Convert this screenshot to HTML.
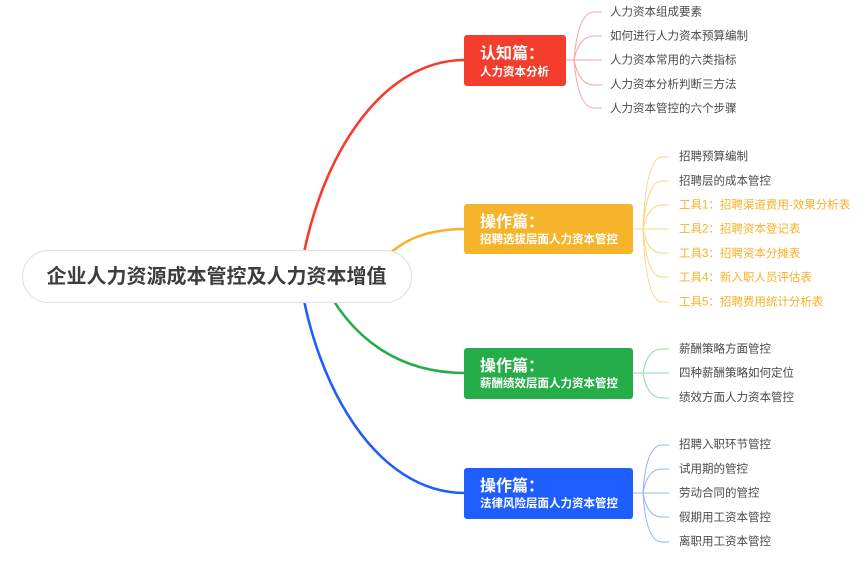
<!DOCTYPE html>
<html>
<head>
<meta charset="utf-8">
<style>
html,body{margin:0;padding:0;background:#fff;}
svg{display:block;}
text{font-family:"Liberation Sans","Noto Sans CJK SC","WenQuanYi Zen Hei",sans-serif;}
.t{font-size:16px;font-weight:bold;fill:#fff;}
.s{font-size:11.5px;font-weight:bold;fill:#fff;}
.c{font-size:11.5px;fill:#4a4a4a;}
.o{font-size:11.5px;fill:#f5b12a;}
</style>
</head>
<body>
<svg width="865" height="562" viewBox="0 0 865 562" xmlns="http://www.w3.org/2000/svg">
  <!-- main curves -->
  <path d="M300,276 C315,170 375,60 465,60" fill="none" stroke="#f53d2d" stroke-width="2.6"/>
  <path d="M370,276 C392,244 420,229 465,229" fill="none" stroke="#f6b22a" stroke-width="2.6"/>
  <path d="M320,276 C350,340 400,373 465,373" fill="none" stroke="#25ad4a" stroke-width="2.6"/>
  <path d="M300,277 C315,383 375,493 465,493" fill="none" stroke="#1f5efe" stroke-width="2.6"/>

  <!-- root -->
  <rect x="22.5" y="250.5" width="389" height="52" rx="26" ry="26" fill="#fff" stroke="#e2e2e2" stroke-width="1.2"/>
  <text x="216.5" y="277" text-anchor="middle" dominant-baseline="central" style="font-size:20px;font-weight:bold;fill:#3d3d3d;">企业人力资源成本管控及人力资本增值</text>

  <!-- red box -->
  <rect x="464" y="35" width="102" height="51" rx="3" fill="#f53d2d"/>
  <text class="t" x="480" y="54" dominant-baseline="central">认知篇：</text>
  <text class="s" x="480" y="72.5" dominant-baseline="central">人力资本分析</text>
  <g fill="none" stroke="#f9a39b" stroke-width="1">
    <path d="M566,60 L574,60"/>
    <path d="M574,60 Q578,12 594,12 L602,12"/>
    <path d="M574,60 Q579,36 594,36 L602,36"/>
    <path d="M574,60 L602,60"/>
    <path d="M574,60 Q579,85 594,85 L602,85"/>
    <path d="M574,60 Q578,108 594,108 L602,108"/>
  </g>
  <text class="c" x="610" y="12.5" dominant-baseline="central">人力资本组成要素</text>
  <text class="c" x="610" y="36.5" dominant-baseline="central">如何进行人力资本预算编制</text>
  <text class="c" x="610" y="60.5" dominant-baseline="central">人力资本常用的六类指标</text>
  <text class="c" x="610" y="85" dominant-baseline="central">人力资本分析判断三方法</text>
  <text class="c" x="610" y="109" dominant-baseline="central">人力资本管控的六个步骤</text>

  <!-- yellow box -->
  <rect x="464" y="204" width="169" height="50" rx="3" fill="#f6b42a"/>
  <text class="t" x="480" y="222.5" dominant-baseline="central">操作篇：</text>
  <text class="s" x="480" y="240" dominant-baseline="central">招聘选拔层面人力资本管控</text>
  <g fill="none" stroke="#fcd383" stroke-width="1">
    <path d="M633,229 L643,229"/>
    <path d="M643,229 Q646,157 662,157 L669,157"/>
    <path d="M643,229 Q647,181 662,181 L669,181"/>
    <path d="M643,229 Q648,205 662,205 L669,205"/>
    <path d="M643,229 L669,229"/>
    <path d="M643,229 Q648,253 662,253 L669,253"/>
    <path d="M643,229 Q647,277 662,277 L669,277"/>
    <path d="M643,229 Q646,302 662,302 L669,302"/>
  </g>
  <text class="c" x="679" y="157" dominant-baseline="central">招聘预算编制</text>
  <text class="c" x="679" y="181.5" dominant-baseline="central">招聘层的成本管控</text>
  <text class="o" x="679" y="205.5" dominant-baseline="central">工具1：招聘渠道费用-效果分析表</text>
  <text class="o" x="679" y="229.5" dominant-baseline="central">工具2：招聘资本登记表</text>
  <text class="o" x="679" y="254" dominant-baseline="central">工具3：招聘资本分摊表</text>
  <text class="o" x="679" y="278" dominant-baseline="central">工具4：新入职人员评估表</text>
  <text class="o" x="679" y="302.5" dominant-baseline="central">工具5：招聘费用统计分析表</text>

  <!-- green box -->
  <rect x="464" y="348" width="169" height="51" rx="3" fill="#25ad4a"/>
  <text class="t" x="480" y="366.5" dominant-baseline="central">操作篇：</text>
  <text class="s" x="480" y="384" dominant-baseline="central">薪酬绩效层面人力资本管控</text>
  <g fill="none" stroke="#92d8a3" stroke-width="1">
    <path d="M633,373 L643,373"/>
    <path d="M643,373 Q647,349 662,349 L669,349"/>
    <path d="M643,373 L669,373"/>
    <path d="M643,373 Q647,398 662,398 L669,398"/>
  </g>
  <text class="c" x="679" y="349.5" dominant-baseline="central">薪酬策略方面管控</text>
  <text class="c" x="679" y="373.5" dominant-baseline="central">四种薪酬策略如何定位</text>
  <text class="c" x="679" y="398" dominant-baseline="central">绩效方面人力资本管控</text>

  <!-- blue box -->
  <rect x="464" y="468" width="169" height="51" rx="3" fill="#1f5efe"/>
  <text class="t" x="480" y="486.5" dominant-baseline="central">操作篇：</text>
  <text class="s" x="480" y="504" dominant-baseline="central">法律风险层面人力资本管控</text>
  <g fill="none" stroke="#90b0fe" stroke-width="1">
    <path d="M633,493 L643,493"/>
    <path d="M643,493 Q646,445 662,445 L669,445"/>
    <path d="M643,493 Q647,469 662,469 L669,469"/>
    <path d="M643,493 L669,493"/>
    <path d="M643,493 Q647,517 662,517 L669,517"/>
    <path d="M643,493 Q646,542 662,542 L669,542"/>
  </g>
  <text class="c" x="679" y="445" dominant-baseline="central">招聘入职环节管控</text>
  <text class="c" x="679" y="469.5" dominant-baseline="central">试用期的管控</text>
  <text class="c" x="679" y="493.5" dominant-baseline="central">劳动合同的管控</text>
  <text class="c" x="679" y="518" dominant-baseline="central">假期用工资本管控</text>
  <text class="c" x="679" y="542" dominant-baseline="central">离职用工资本管控</text>
</svg>
</body>
</html>
